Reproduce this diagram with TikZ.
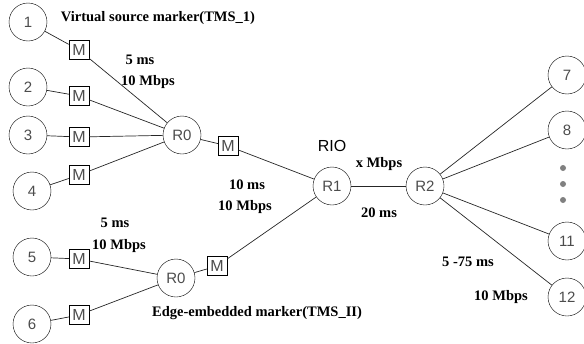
\documentclass[tikz,border=0pt]{standalone}
\usepackage{fontspec}
\setmainfont{Liberation Serif}
\setsansfont{Liberation Sans}
\begin{document}
\begin{tikzpicture}[x=1pt, y=-1pt,
    host/.style={circle, draw, minimum size=38pt, inner sep=0pt, font=\sffamily\fontsize{15}{15}\selectfont, text=black!70},
    marker/.style={draw, minimum width=20pt, minimum height=19pt, inner sep=0pt, font=\sffamily\fontsize{16}{16}\selectfont, text=black!70},
    lbl/.style={font=\bfseries\fontsize{14.5}{16}\selectfont},
    link/.style={draw=black!85, line width=0.7pt}]
            \useasboundingbox (0, 0) rectangle (584, 343);
            \node [host] (h1) at (28, 22) {1};
            \node [host] (h2) at (28, 87) {2};
            \node [host] (h3) at (28, 135) {3};
            \node [host] (h4) at (32, 191) {4};
            \node [host] (h5) at (32, 257) {5};
            \node [host] (h6) at (32, 324) {6};
            \node [marker] (m1) at (79, 50) {M};
            \node [marker] (m2) at (79, 96) {M};
            \node [marker] (m3) at (79, 137) {M};
            \node [marker] (m4) at (79, 175) {M};
            \node [marker] (m5) at (79, 259) {M};
            \node [marker] (m6) at (79, 315) {M};
            \node [host] (r0a) at (182, 135) {R0};
            \node [host] (r0b) at (176, 278) {R0};
            \node [marker] (ma) at (228, 146) {M};
            \node [marker] (mb) at (217, 266) {M};
            \node [host] (r1) at (332, 186) {R1};
            \node [host] (r2) at (425, 186) {R2};
            \node [host] (h7) at (567, 75) {7};
            \node [host] (h8) at (567, 130) {8};
            \node [host] (h11) at (567, 241) {11};
            \node [host] (h12) at (567, 297) {12};
            \foreach \i in {1, 2, 3, 4} {
                \draw [link] (h\i) -- (m\i);
                \draw [link] (m\i) -- (r0a);
            }
            \foreach \i in {5, 6} {
                \draw [link] (h\i) -- (m\i);
                \draw [link] (m\i) -- (r0b);
            }
            \draw [link] (r0a) -- (ma);
            \draw [link] (ma) -- (r1);
            \draw [link] (r0b) -- (mb);
            \draw [link] (mb) -- (r1);
            \draw [link] (r1) -- (r2);
            \foreach \j in {7, 8, 11, 12}
                \draw [link] (r2) -- (h\j);
            \foreach \y in {168, 184, 200}
                \fill [black!50] (563, \y) circle (3);
            \node [lbl] (tms1) at (158, 18) {Virtual source marker(TMS\_1)};
            \node [lbl] (tms2) at (257, 313) {Edge-embedded marker(TMS\_II)};
            \node [lbl] (d1) at (140, 60) {5 ms};
            \node [lbl] (b1) at (148, 82) {10 Mbps};
            \node [lbl] (d2) at (247, 185) {10 ms};
            \node [lbl] (b2) at (245, 207) {10 Mbps};
            \node [lbl] (d3) at (115, 223) {5 ms};
            \node [lbl] (b3) at (119, 246) {10 Mbps};
            \node [font=\sffamily\fontsize{16}{16}\selectfont] (rio) at (332, 146) {RIO};
            \node [lbl] (b4) at (379, 164) {x Mbps};
            \node [lbl] (d4) at (379, 213) {20 ms};
            \node [lbl] (d5) at (468, 262) {5 -75 ms};
            \node [lbl] (b5) at (501, 297) {10 Mbps};
        \end{tikzpicture}
\end{document}
